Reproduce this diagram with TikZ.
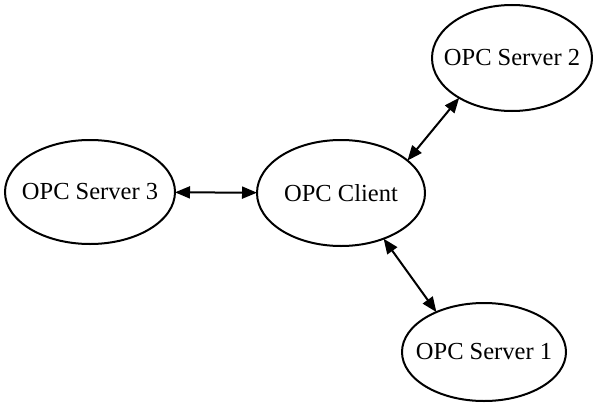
\documentclass[tikz,border=0pt]{standalone}
\usepackage{fontspec}
\setmainfont{Liberation Serif}
\usetikzlibrary{arrows.meta,shapes.geometric}
\tikzset{
  opcnode/.style={draw, ellipse, line width=2pt, inner sep=0pt, outer sep=0pt,
    font=\fontsize{24.5}{29}\selectfont},
  link/.style={line width=2pt, {Triangle[length=15pt,width=12pt]}-{Triangle[length=15pt,width=12pt]}}
}
\newcommand{\lbl}[1]{\makebox[0pt]{#1}}
\begin{document}
\begin{tikzpicture}[x=1pt,y=-1pt]
\useasboundingbox (0,0) rectangle (593,404);
\node[opcnode, minimum width=170pt, minimum height=104pt] (s3) at (90,192) {\lbl{OPC Server 3}};
\node[opcnode, minimum width=168pt, minimum height=106pt] (client) at (341,193) {\lbl{OPC Client}};
\node[opcnode, minimum width=160pt, minimum height=106pt] (s2) at (512,58) {\lbl{OPC Server 2}};
\node[opcnode, minimum width=164pt, minimum height=98pt] (s1) at (484,352) {\lbl{OPC Server 1}};
\draw[link] (s3) -- (client);
\draw[link] (client.26) -- (s2.217);
\draw[link] (client.313) -- (s1.140);
\end{tikzpicture}
\end{document}
